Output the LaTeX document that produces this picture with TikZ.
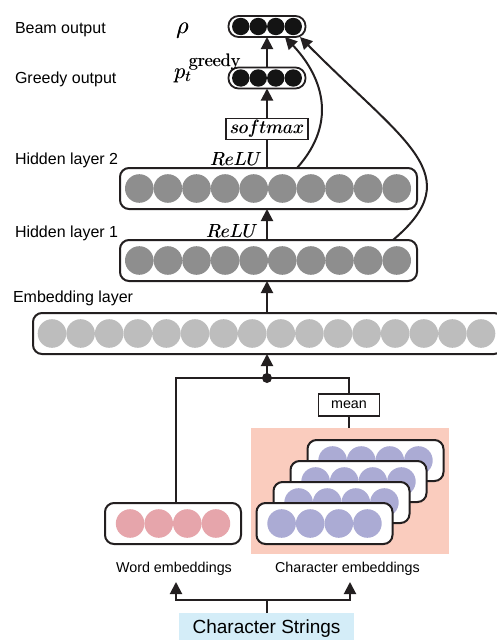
\RequirePackage{fix-cm}
\documentclass[tikz,border=0pt]{standalone}
\usepackage{fontspec}
\newfontfamily\labfont{Liberation Sans}
\usetikzlibrary{arrows.meta}
% one design size for every math italic / roman size
\DeclareFontShape{OML}{cmm}{m}{it}{<-> cmmi10}{}
\DeclareFontShape{OT1}{cmr}{m}{n}{<-> cmr10}{}
\newcommand{\supgreedy}{\hbox{\kern3.5pt\fontsize{18}{20}\usefont{OT1}{cmr}{m}{n}greedy}}
% two copies a hair apart give the formulas a slightly heavier stroke
\newcommand{\heavytext}[1]{\leavevmode\rlap{#1}\kern0.45pt#1}

\definecolor{ink}{HTML}{231F20}
\definecolor{outc}{HTML}{141414}
\definecolor{hidc}{HTML}{8E8E8E}
\definecolor{embc}{HTML}{BDBDBD}
\definecolor{wrdc}{HTML}{E6A5AB}
\definecolor{chrc}{HTML}{ABABD4}
\definecolor{pinkbg}{HTML}{FACCBE}
\definecolor{bluebg}{HTML}{D4EDF8}

\begin{document}
\begin{tikzpicture}[x=1pt,y=-1pt,
  every node/.style={inner sep=0pt, outer sep=0pt},
  layerbox/.style={draw=ink, line width=2pt, rounded corners=9pt, fill=white, minimum height=41pt},
  outbox/.style={draw=ink, line width=1.8pt, rounded corners=10pt, fill=white, minimum width=77pt, minimum height=21pt},
  opbox/.style={draw=ink, line width=1.6pt, fill=white},
  link/.style={draw=ink, line width=2pt},
  arr/.style={link, -{Triangle[length=12pt,width=12pt]}},
  sidelabel/.style={font=\labfont\fontsize{16}{18}\selectfont, anchor=base west},
  smalllabel/.style={font=\labfont\fontsize{14.3}{16}\selectfont, anchor=base},
  mathlabel/.style={font=\fontsize{19}{22}\selectfont},
]
\useasboundingbox (0,0) rectangle (497,640);
\clip (0,0) rectangle (497,640);

% ---- output layers ----
\node[outbox] (beam) at (267,26.5) {};
\foreach \k in {0,...,3} \fill[outc] ({267+(\k-1.5)*17.5},26.5) circle (8.7pt);
\node[outbox] (greedy) at (267,78) {};
\foreach \k in {0,...,3} \fill[outc] ({267+(\k-1.5)*17.5},78) circle (8.7pt);

\node[opbox, minimum width=82pt, minimum height=21pt, mathlabel] (soft) at (267,129) {\heavytext{$softmax$}};

% ---- hidden layers ----
\node[layerbox, minimum width=297pt] (hid2) at (268.5,188.5) {};
\foreach \k in {0,...,9} \fill[hidc] ({268+(\k-4.5)*28.6},188.5) circle (14.3pt);
\node[layerbox, minimum width=297pt] (hid1) at (268.5,260.5) {};
\foreach \k in {0,...,9} \fill[hidc] ({268+(\k-4.5)*28.6},260.5) circle (14.3pt);

% ---- embedding layer ----
\node[layerbox, minimum width=470pt] (emb) at (268,333.5) {};
\foreach \k in {0,...,15} \fill[embc] ({52+\k*28.6},333.5) circle (14.3pt);

% ---- left-hand labels ----
\node[sidelabel] (lbeam) at (15,33.5) {Beam output};
\node[sidelabel] (lgreedy) at (15,83.5) {Greedy output};
\node[sidelabel] (lhid2) at (15,164) {Hidden layer 2};
\node[sidelabel] (lhid1) at (15,237) {Hidden layer 1};
\node[sidelabel] (lemb) at (13,302) {Embedding layer};

\node[anchor=base west, font=\fontsize{24}{28}\selectfont] (rho) at (176,33) {\heavytext{$\rho$}};
\node[anchor=base west, font=\fontsize{22}{26}\selectfont] (pgreedy) at (174,78)
  {\heavytext{$p_t^{\supgreedy}$}};
\node[mathlabel, anchor=base east] (relu2) at (262,165) {\heavytext{$ReLU$}};
\node[mathlabel, anchor=base east] (relu1) at (258,237) {\heavytext{$ReLU$}};

% ---- input side ----
\node[fill=pinkbg, minimum width=198pt, minimum height=126pt] (charbg) at (350,491) {};
\foreach \i in {3,2,1,0} {
  \node[layerbox, minimum width=136pt] (char\i) at ({324.5+17*\i},{523.5-21*\i}) {};
  \foreach \k in {0,...,3} \fill[chrc] ({324.5+17*\i+(\k-1.5)*28.6},{523.5-21*\i}) circle (14.3pt);
}
\node[layerbox, minimum width=136pt] (word) at (173,523.5) {};
\foreach \k in {0,...,3} \fill[wrdc] ({173+(\k-1.5)*28.6},523.5) circle (14.3pt);

\node[opbox, minimum width=61pt, minimum height=22pt, font=\labfont\fontsize{14.3}{16}\selectfont] (mean) at (349,405) {mean};

\node[smalllabel] (lword) at (174,572) {Word embeddings};
\node[smalllabel] (lchar) at (347.5,572) {Character embeddings};

\node[fill=bluebg, anchor=north, minimum width=175pt, text height=13.5pt, text depth=12pt, inner ysep=7pt,
      font=\labfont\fontsize{19}{22}\selectfont] (strings) at (266.5,613) {Character Strings};

% ---- connectors ----
\coordinate (junc) at (267,378);
\coordinate (jl) at (176,378);
\coordinate (jr) at (349,378);
\draw[link] (jl |- word.north) -- (jl) -- (jr) -- (mean.north);
\draw[link] (mean.south) -- (mean.south |- charbg.north);
\draw[arr] (junc) -- (junc |- emb.south);
\fill[ink] (junc) circle (5pt);

\draw[arr] (emb.north -| junc) -- (hid1.south -| junc);
\draw[arr] (hid1.north -| junc) -- (hid2.south -| junc);
\draw[link] (hid2.north -| junc) -- (soft.south);
\draw[arr] (soft.north) -- (greedy.south);
\draw[arr] (greedy.north) -- (beam.south);

\draw[arr] ([xshift=28.5pt]hid2.north) .. controls (340,120) and (320,74) .. ([xshift=18pt]beam.south);
\draw[arr] ([xshift=124.5pt]hid1.north) .. controls (470,175) and (405,143) .. ([xshift=33pt]beam.south);

\coordinate (bm) at (266.5,600);
\coordinate (al) at (176,582);
\coordinate (ar) at (350,582);
\draw[link] (strings.north) -- (bm);
\draw[arr] (bm) -| (al);
\draw[arr] (bm) -| (ar);
\end{tikzpicture}
\end{document}
